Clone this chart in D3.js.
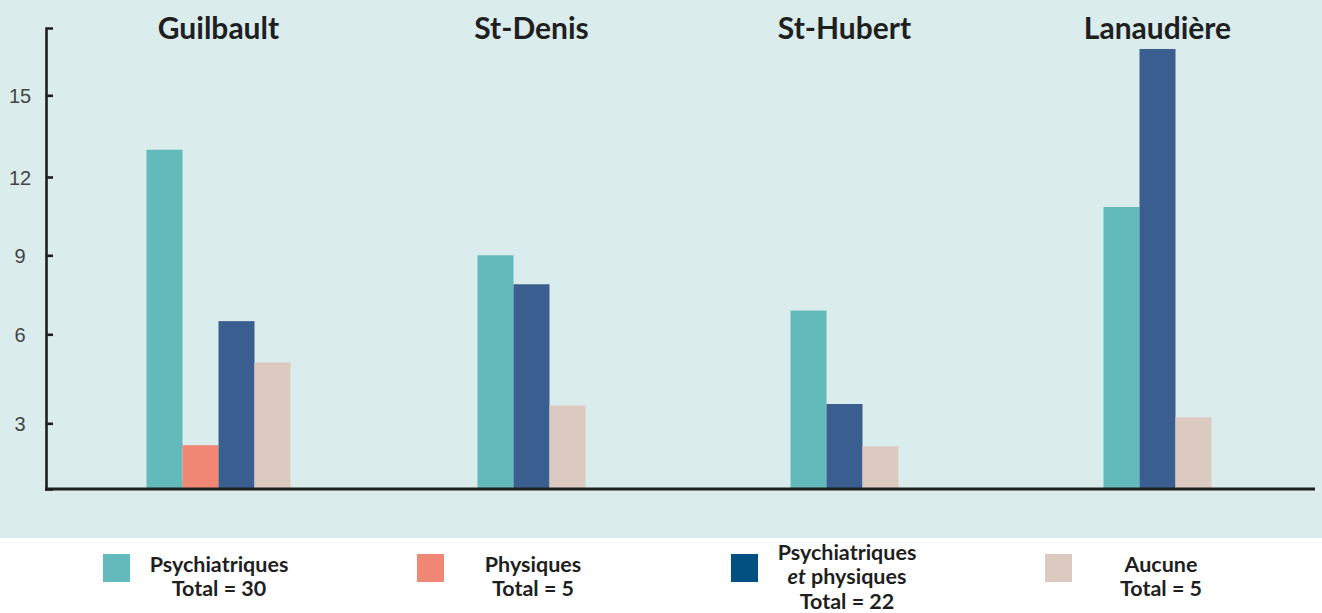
<!DOCTYPE html>
<html>
<head>
<meta charset="utf-8">
<script src="https://cdn.jsdelivr.net/npm/d3@7"></script>
<style>
  body { margin: 0; background: #ffffff; }
  svg { display: block; font-family: Lato, "Open Sans", sans-serif; }
</style>
</head>
<body>
<div id="chart"></div>
<script>
// data
var regions = ["Guilbault", "St-Denis", "St-Hubert", "Lanaudière"];
var psychiatriques = [13, 9, 6.9, 10.85];
var physiques = [2, null, null, null];     // only Guilbault has a bar
var psychPhysiques = [6.5, 7.9, 3.65, 16.7];
var aucune = [5.05, 3.6, 1.95, 3.2];
var yTicks = [3, 6, 9, 12, 15];
var legendLines = [
  ["Psychiatriques", "Total = 30"],
  ["Physiques", "Total = 5"],
  ["Psychiatriques", "et physiques", "Total = 22"],
  ["Aucune", "Total = 5"]
];

var seriesKeys = ["psy", "phy", "both", "none"];
var seriesValues = [psychiatriques, physiques, psychPhysiques, aucune];
var barColor = {psy: "#63babb", phy: "#f08674", both: "#3a5e8f", none: "#dccac0"};
var swatchColor = {psy: "#63babb", phy: "#f08674", both: "#024f81", none: "#dccac0"};

var width = 1322, height = 613;

var svg = d3.select("#chart").append("svg")
  .attr("width", width)
  .attr("height", height);

// light background behind the plot
svg.append("rect")
  .attr("x", 0).attr("y", 0)
  .attr("width", width).attr("height", 538)
  .attr("fill", "#daeceb");

// y scale: the tick marks in the original are not evenly spaced,
// so a piecewise linear scale follows them
var y = d3.scaleLinear()
  .domain([0, 3, 6, 9, 12, 15, 17.47])
  .range([489, 423.3, 334.3, 255.3, 177, 95.3, 28]);

// one band per region
var x0 = d3.scaleBand()
  .domain(regions)
  .range([62, 1314])
  .padding(0);

var barW = 36;

// build rows for each region, skipping empty series so bars sit side by side
var groups = regions.map(function(r, i) {
  var present = [];
  for (var k = 0; k < seriesKeys.length; k++) {
    if (seriesValues[k][i] != null) present.push({key: seriesKeys[k], val: seriesValues[k][i]});
  }
  var c = x0(r) + x0.bandwidth() / 2;
  var inner = d3.scaleBand()
    .domain(present.map(function(d) { return d.key; }))
    .range([c - present.length * barW / 2, c + present.length * barW / 2]);
  return {region: r, center: c, bars: present, inner: inner};
});

var g = svg.selectAll("g.region")
  .data(groups)
  .enter()
  .append("g")
    .attr("class", "region");

g.selectAll("rect")
  .data(function(d) { return d.bars.map(function(b) { b.inner = d.inner; return b; }); })
  .enter()
  .append("rect")
    .attr("x", function(d) { return d.inner(d.key); })
    .attr("y", function(d) { return y(d.val); })
    .attr("width", function(d) { return d.inner.bandwidth(); })
    .attr("height", function(d) { return y(0) - y(d.val); })
    .attr("fill", function(d) { return barColor[d.key]; });

// region titles
g.append("text")
  .attr("x", function(d) { return d.center; })
  .attr("y", 39)
  .attr("text-anchor", "middle")
  .style("font-size", "30px")
  .style("font-weight", "700")
  .style("fill", "#1f1f1f")
  .text(function(d) { return d.region; });

// y axis, ticks pointing into the plot, labels moved to the left
var yAxis = svg.append("g")
  .attr("transform", "translate(46,0)")
  .call(d3.axisRight(y).tickValues(yTicks).tickSize(7).tickSizeOuter(7));
yAxis.select(".domain").attr("stroke", "#1f1f1f").attr("stroke-width", 2.6);
yAxis.selectAll(".tick line").attr("stroke", "#1f1f1f").attr("stroke-width", 2.6);
yAxis.selectAll(".tick text")
  .attr("x", -26)
  .attr("dy", "0.36em")
  .attr("text-anchor", "middle")
  .style("font-size", "20px")
  .style("font-weight", "300")
  .style("fill", "#444");

// x axis line
svg.append("line")
  .attr("x1", 45).attr("x2", 1315)
  .attr("y1", y(0)).attr("y2", y(0))
  .attr("stroke", "#1f1f1f")
  .attr("stroke-width", 3);

// legend
var legX = d3.scaleBand()
  .domain(seriesKeys)
  .range([103, 103 + 4 * 314]);

var leg = svg.selectAll("g.legend")
  .data(seriesKeys)
  .enter()
  .append("g")
    .attr("class", "legend");

leg.append("rect")
  .attr("x", function(d) { return legX(d); })
  .attr("y", 554)
  .attr("width", 27)
  .attr("height", 28)
  .attr("fill", function(d) { return swatchColor[d]; });

leg.each(function(d, i) {
  var lines = legendLines[i];
  var t = d3.select(this).append("text")
    .attr("text-anchor", "middle")
    .style("font-size", "21.5px")
    .style("font-weight", "700")
    .style("fill", "#1f1f1f");
  lines.forEach(function(line, j) {
    var ty = 584 + (j - (lines.length - 1) / 2) * 24.5;
    var ts = t.append("tspan")
      .attr("x", legX(d) + 116)
      .attr("y", ty);
    if (line === "et physiques") {
      ts.append("tspan").style("font-style", "italic").text("et");
      ts.append("tspan").text(" physiques");
    } else {
      ts.text(line);
    }
  });
});
</script>
</body>
</html>
